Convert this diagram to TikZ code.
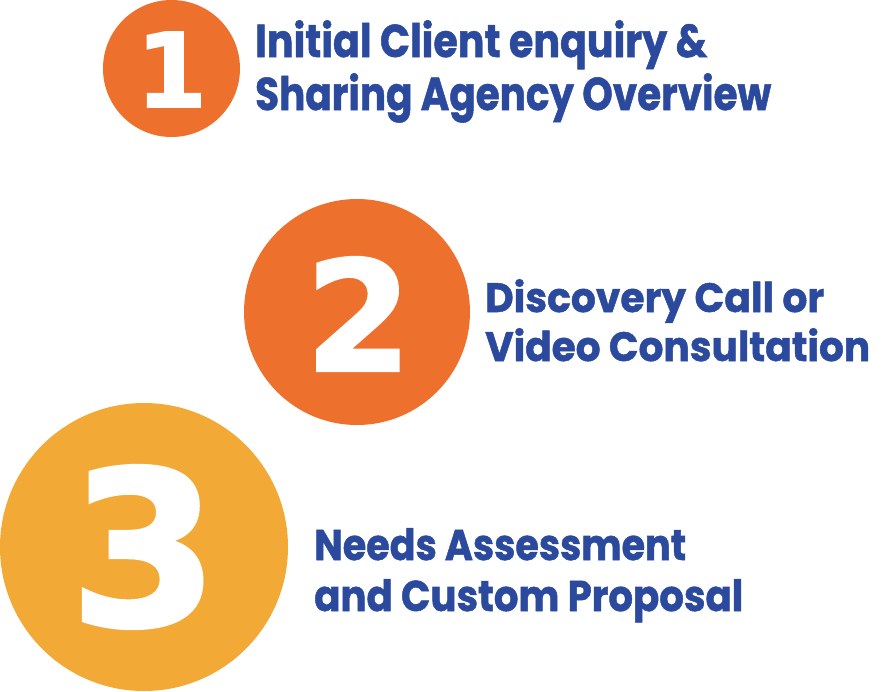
\documentclass[tikz,border=0pt]{standalone}
\usepackage{fontspec}
\usepackage{graphicx}
\newfontfamily\labelfont{Poppins}[BoldFeatures={FakeBold=1.2}]
\newfontfamily\digitfont{DejaVu Sans}[BoldFeatures={FakeBold=1.5}]
\definecolor{stepOrange}{RGB}{238,112,45}
\definecolor{stepYellow}{RGB}{243,169,54}
\definecolor{stepBlue}{RGB}{43,74,158}
\newcommand\fitline[3]{\resizebox{#1}{\height}{\fontsize{#2}{#2}\labelfont\bfseries #3}}
\newcommand\bigdigit[2]{\resizebox{!}{#1}{\digitfont\bfseries #2}}
\tikzset{
  disc/.style={circle, inner sep=0pt, draw=none},
  digitnode/.style={inner sep=0pt, text=white, anchor=center},
  lineA/.style={inner sep=0pt, anchor=base west, text=stepBlue},
}
\begin{document}
\begin{tikzpicture}[x=1pt,y=-1pt]
\useasboundingbox (0,0) rectangle (889,691);
% circles
\node[disc, fill=stepOrange, minimum size=137pt] (c1) at (171.5,68.5) {};
\node[disc, fill=stepOrange, minimum size=226pt] (c2) at (357,312) {};
\node[disc, fill=stepYellow, minimum size=288pt] (c3) at (144,547) {};
% digits
\node[digitnode] (d1) at (171.5,69.5) {\bigdigit{75pt}{1}};
\node[digitnode] (d2) at (358.5,314) {\bigdigit{114pt}{2}};
\node[digitnode] (d3) at (144,547) {\bigdigit{160pt}{3}};
% texts
\node[lineA] (t1a) at (255,57) {\fitline{452pt}{46pt}{Initial Client enquiry \&}};
\node[lineA] (t1b) at (255,110) {\fitline{516pt}{46pt}{Sharing Agency Overview}};
\node[lineA] (t2a) at (485,312) {\fitline{339pt}{41pt}{Discovery Call or}};
\node[lineA] (t2b) at (485,361) {\fitline{385pt}{41pt}{Video Consultation}};
\node[lineA] (t3a) at (314,560) {\fitline{372pt}{43pt}{Needs Assessment}};
\node[lineA] (t3b) at (314,611) {\fitline{429pt}{43pt}{and Custom Proposal}};
\end{tikzpicture}
\end{document}
